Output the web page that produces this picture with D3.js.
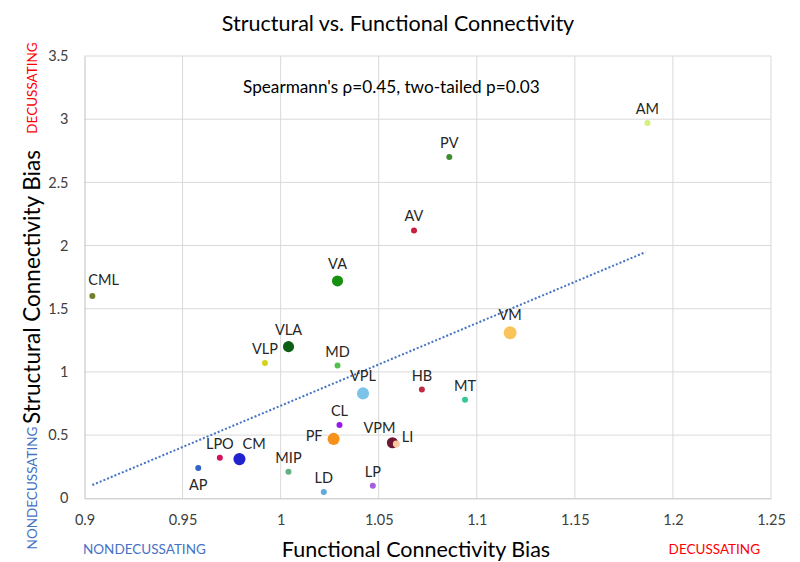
<!DOCTYPE html>
<html>
<head>
<meta charset="utf-8">
<script src="https://cdn.jsdelivr.net/npm/d3@7"></script>
<style>
  html, body { margin: 0; padding: 0; background: #fff; }
  text { font-family: Lato, "Open Sans", sans-serif; }
</style>
</head>
<body>
<svg id="chart" width="800" height="562"></svg>
<script>
// ---- data ----
const nuclei = ["AM","PV","AV","VA","CML","VM","VLA","VLP","MD","VPL","HB","MT","CL","PF","VPM","LI","LPO","CM","AP","MIP","LD","LP"];
const functionalBias = [1.187,1.086,1.068,1.029,0.904,1.117,1.004,0.992,1.029,1.042,1.072,1.094,1.030,1.027,1.057,1.059,0.969,0.979,0.958,1.004,1.022,1.047];
const structuralBias = [2.97,2.70,2.12,1.72,1.60,1.31,1.20,1.07,1.05,0.83,0.86,0.78,0.58,0.47,0.44,0.43,0.32,0.31,0.24,0.21,0.05,0.10];
const pointWeight   = [1,1,1,3,1,4,3,1,1,3.5,1,1,1,3.5,3,1.3,1,3.5,1,1,1,1];
const trendX = [0.904, 1.186];
const trendY = [0.105, 1.948];
const xTicks = [0.9,0.95,1,1.05,1.1,1.15,1.2,1.25];
const yTicks = [0,0.5,1,1.5,2,2.5,3,3.5];

// ---- styles (not data) ----
const colors = {AM:"#d2f27a",PV:"#3e8e2e",AV:"#c8203e",VA:"#16900f",CML:"#6f7f2a",VM:"#f9c45c",VLA:"#0b5e12",VLP:"#d6d21e",MD:"#52bf4e",VPL:"#7cc3ea",HB:"#c02a43",MT:"#34c98e",CL:"#9418f0",PF:"#f6921a",VPM:"#6e1730",LI:"#f8c9a0",LPO:"#d3125c",CM:"#2222cf",AP:"#3264c6",MIP:"#62b182",LD:"#5eaadb",LP:"#a25fe0"};
const labelPlace = {PF:"left",LI:"right",AP:"below",CM:"aboveRight",VPM:"aboveLeft",CML:"aboveRight"};

const svg = d3.select("#chart");
const x = d3.scaleLinear().domain([0.9,1.25]).range([84.5,771]);
const y = d3.scaleLinear().domain([0,3.5]).range([498.3,56]);
const r = d3.scaleSqrt().domain([1,4]).range([3,6.5]);

// gridlines
svg.append("g").selectAll("line.v").data(xTicks.slice(1)).join("line")
  .attr("x1",d=>x(d)).attr("x2",d=>x(d)).attr("y1",y(3.5)).attr("y2",y(0))
  .attr("stroke","#d9d9d9").attr("stroke-width",1);
svg.append("g").selectAll("line.h").data(yTicks.slice(1)).join("line")
  .attr("x1",x(0.9)).attr("x2",x(1.25)).attr("y1",d=>y(d)).attr("y2",d=>y(d))
  .attr("stroke","#d9d9d9").attr("stroke-width",1);

// axes
const xAxis = svg.append("g").attr("transform",`translate(0,${y(0)})`)
  .call(d3.axisBottom(x).tickValues(xTicks).tickSize(0).tickPadding(16).tickFormat(d3.format("")));
const yAxis = svg.append("g").attr("transform",`translate(${x(0.9)},0)`)
  .call(d3.axisLeft(y).tickValues(yTicks).tickSize(0).tickPadding(16).tickFormat(d3.format("")));
[xAxis,yAxis].forEach(a=>{
  a.select(".domain").attr("stroke","#bfbfbf");
  a.selectAll("text").attr("font-size",14.5).attr("fill","#404040").attr("font-family","Lato, sans-serif");
});

// trendline
svg.append("path")
  .datum(trendX.map((d,i)=>[d,trendY[i]]))
  .attr("d",d3.line().x(d=>x(d[0])).y(d=>y(d[1])))
  .attr("fill","none").attr("stroke","#4472c4").attr("stroke-width",2)
  .attr("stroke-dasharray","2,2");

// points
const pts = nuclei.map((n,i)=>({n,fx:functionalBias[i],sy:structuralBias[i],w:pointWeight[i]}));
svg.append("g").selectAll("circle").data(pts).join("circle")
  .attr("cx",d=>x(d.fx)).attr("cy",d=>y(d.sy)).attr("r",d=>r(d.w))
  .attr("fill",d=>colors[d.n]);

// labels
svg.append("g").selectAll("text").data(pts).join("text")
  .text(d=>d.n)
  .attr("font-size",14.5).attr("fill","#262626")
  .each(function(d){
    const cx=x(d.fx), cy=y(d.sy), rr=r(d.w);
    const p=labelPlace[d.n]||"above";
    const t=d3.select(this);
    if(p==="above"){ t.attr("x",cx).attr("y",cy-rr-6).attr("text-anchor","middle"); }
    else if(p==="below"){ t.attr("x",cx).attr("y",cy+rr+19).attr("text-anchor","middle"); }
    else if(p==="left"){ t.attr("x",cx-rr-5).attr("y",cy+2).attr("text-anchor","end"); }
    else if(p==="right"){ t.attr("x",cx+rr+2).attr("y",cy-2).attr("text-anchor","start"); }
    else if(p==="aboveRight"){ t.attr("x",cx+rr+(d.n==="CML"?-7:-3)).attr("y",cy-rr-(d.n==="CML"?8:4)).attr("text-anchor","start"); }
    else if(p==="aboveLeft"){ t.attr("x",cx+3).attr("y",cy-rr-4).attr("text-anchor","end"); }
  });

// title
svg.append("text").attr("x",398).attr("y",31).attr("text-anchor","middle")
  .attr("font-size",21.5).attr("fill","#000").text("Structural vs. Functional Connectivity");

// annotation
svg.append("text").attr("x",243).attr("y",93).attr("text-anchor","start")
  .attr("font-size",17.2).attr("fill","#000").text("Spearmann's \u03C1=0.45, two-tailed p=0.03");

// axis titles
svg.append("text").attr("x",416).attr("y",557).attr("text-anchor","middle")
  .attr("font-size",21.5).attr("fill","#000").text("Functional Connectivity Bias");
svg.append("text").attr("transform","translate(40,287) rotate(-90)").attr("text-anchor","middle")
  .attr("font-size",22.5).attr("fill","#000").text("Structural Connectivity Bias");

// side labels
svg.append("text").attr("transform","translate(37,88) rotate(-90)").attr("text-anchor","middle")
  .attr("font-size",13.5).attr("fill","#ff0000").text("DECUSSATING");
svg.append("text").attr("transform","translate(37,488) rotate(-90)").attr("text-anchor","middle")
  .attr("font-size",13.5).attr("fill","#4472c4").text("NONDECUSSATING");
svg.append("text").attr("x",83).attr("y",554).attr("text-anchor","start")
  .attr("font-size",13.5).attr("fill","#4472c4").text("NONDECUSSATING");
svg.append("text").attr("x",760).attr("y",554).attr("text-anchor","end")
  .attr("font-size",13.5).attr("fill","#ff0000").text("DECUSSATING");
</script>
</body>
</html>
